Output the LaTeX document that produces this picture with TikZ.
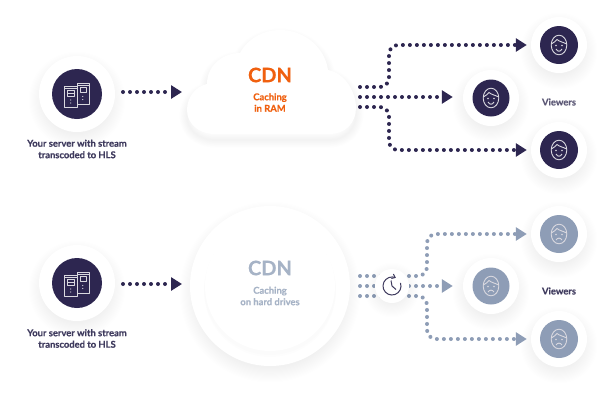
\documentclass[tikz,border=0pt]{standalone}
\usepackage{fontspec}
\setmainfont[BoldFeatures={FakeBold=0.35}]{Lato}
\usetikzlibrary{arrows.meta}

\definecolor{navy}{HTML}{2D2650}
\definecolor{labelink}{HTML}{3F3B5E}
\definecolor{steel}{HTML}{8E9DB6}
\definecolor{steeltext}{HTML}{A6B3C6}
\definecolor{flame}{HTML}{F0600F}

\tikzset{
  disc/.style = {circle, fill=white, inner sep=0, minimum size=56},
  hub/.style = {circle, fill=navy, inner sep=0, minimum size=#1},
  hub/.default = 38,
  greyhub/.style = {hub=#1, fill=steel},
  greyhub/.default = 38,
  dotline/.style = {draw=navy, line width=4, line cap=round, dash pattern=on 0pt off 7pt,
    rounded corners=9, -{Triangle[length=11pt,width=13pt,fill=navy]}},
  greydots/.style = {dotline, draw=steel, -{Triangle[length=11pt,width=13pt,fill=steel]}},
  plainlabel/.style = {font=\fontsize{9.4}{11.5}\selectfont\bfseries, text=labelink, align=center},
  bigtitle/.style = {font=\fontsize{20}{22}\selectfont\bfseries},
  smalltitle/.style = {font=\fontsize{9.4}{11.5}\selectfont\bfseries, align=center},
  glyph/.style = {draw=white!82!navy, line width=0.9, line join=round}
}

% soft shadow under a round shape
\newcommand{\softshadow}[3]{
  \foreach \i in {1,...,14} {
    \fill[black, opacity=0.0035] (#1, #2+6) circle ({#3+\i*1.1-5});
  }
}
% two server towers
\newcommand{\servericon}[2]{
  \begin{scope}[shift={(#1,#2)}, glyph]
    \draw (-12.5,-8) rectangle (0,13);
    \draw (-12.5,-5.5) -- (0,-5.5);
    \draw (-9.5,-3.5) rectangle (-3,2);
    \draw (-9.5,-1) -- (-3,-1);
    \draw (0,-11) rectangle (12,10);
    \draw (0,-8.5) -- (12,-8.5);
    \draw (3,-6.5) rectangle (9.5,-1.5);
    \fill[white!82!navy] (-6.3,6) circle (0.6) (-6.3,9) circle (0.6);
    \fill[white!82!navy] (5.7,2.5) circle (0.6) (5.7,5.5) circle (0.6);
  \end{scope}
}
% face, #3 and #4 set the mouth: ends and middle
\newcommand{\faceicon}[4]{
  \begin{scope}[shift={(#1,#2)}, glyph]
    \draw (0,0) ellipse (7.8 and 9.8);
    \draw (-7.6,-1) .. controls (-5,-2.5) and (-3,-4) .. (-2,-5.5) .. controls (0,-3.5) and (4,-3) .. (7.6,-1);
    \fill[white!82!navy] (-3,0.5) circle (0.8) (3,0.5) circle (0.8);
    \draw (-3,#3) .. controls (-1,#4) and (1,#4) .. (3,#3);
  \end{scope}
}
\newcommand{\cloudoutline}{
  (215,134) .. controls (198,134) and (187,123) .. (187,110)
  .. controls (187,96) and (197,86) .. (207,84)
  .. controls (207,66) and (222,53) .. (240,53)
  .. controls (248,38) and (264,30) .. (280,30)
  .. controls (305,30) and (325,48) .. (328,70)
  .. controls (345,73) and (356,92) .. (356,108)
  .. controls (356,123) and (345,134) .. (330,134) -- cycle
}

\begin{document}
\begin{tikzpicture}[x=1pt, y=-1pt]

  \useasboundingbox (0,0) rectangle (600,400);
  \fill[white] (0,0) rectangle (600,400);

  \begin{scope}

    % Stream through RAM
    \softshadow{77}{94}{38}
    \softshadow{559}{45}{28}
    \softshadow{491}{98}{28}
    \softshadow{559}{150}{28}
    \foreach \i in {1,...,12} {
      \draw[black, opacity=0.003, line width=\i*1.3, line join=round, yshift=-6pt] \cloudoutline;
    }
    \fill[white] \cloudoutline;

    \node[disc, minimum size=76] (srvA) at (77,94) {};
    \node[hub=50] (srvAcore) at (77,94) {};
    \servericon{77}{94}
    \node[plainlabel] (srvAtext) at (77,149) {Your server with stream\\transcoded to HLS};

    \node[bigtitle, text=flame] (cdnA) at (270,75) {CDN};
    \node[smalltitle, text=flame] (cacheA) at (270,102.5) {Caching\\in RAM};

    \node[disc] (viewA) at (559,45) {};
    \node[disc] (viewB) at (491,98) {};
    \node[disc] (viewC) at (559,150) {};
    \node[hub] (viewAcore) at (559,45) {};
    \node[hub=37] (viewBcore) at (491,98) {};
    \node[hub] (viewCcore) at (559,150) {};
    \faceicon{559}{45}{4}{7}
    \faceicon{491}{98}{4}{7}
    \faceicon{559}{150}{4}{7}
    \node[plainlabel, text=labelink!85!white] (viewText) at (559,102) {Viewers};

    \coordinate (srvAend) at (182,92);
    \coordinate (ramA) at (360,87);
    \coordinate (ramB) at (360,97);
    \coordinate (ramC) at (360,107);
    \coordinate (bendA) at (389,66);
    \coordinate (bendC) at (389,128);

    \draw[dotline] (123,92) coordinate (srvAout) -- (srvAend);
    \draw[dotline] (ramA) -| (bendA) |- ([xshift=-4pt]viewA.west);
    \draw[dotline] (ramB) -- ([xshift=-10pt]viewB.west |- ramB);
    \draw[dotline] (ramC) -| (bendC) |- ([xshift=-4pt]viewC.west);

  \end{scope}
  \begin{scope}

    % Stream through hard drives
    \softshadow{77}{283}{38}
    \softshadow{559}{234}{28}
    \softshadow{491}{286}{28}
    \softshadow{559}{339}{28}
    \softshadow{270}{286}{80}

    \node[disc, minimum size=160] (hddOuter) at (270,286) {};
    \fill[black, opacity=0.008] (270,291) circle (66);
    \fill[black, opacity=0.008] (270,289) circle (66);
    \node[disc, minimum size=130] (hddInner) at (270,286) {};

    \node[disc, minimum size=76] (srvB) at (77,283) {};
    \node[hub=50] (srvBcore) at (77,283) {};
    \servericon{77}{283}
    \node[plainlabel] (srvBtext) at (77,338.5) {Your server with stream\\transcoded to HLS};

    \node[bigtitle, text=steeltext] (cdnB) at (270,268) {CDN};
    \node[smalltitle, text=steeltext] (cacheB) at (270,296) {Caching\\on hard drives};

    \node[disc] (viewD) at (559,234) {};
    \node[disc] (viewE) at (491,286) {};
    \node[disc] (viewF) at (559,339) {};
    \node[greyhub] (viewDcore) at (559,234) {};
    \node[greyhub=37] (viewEcore) at (491,286) {};
    \node[greyhub] (viewFcore) at (559,339) {};
    \faceicon{559}{234}{6}{3.5}
    \faceicon{491}{286}{6}{3.5}
    \faceicon{559}{339}{6}{3.5}
    \node[plainlabel, text=labelink] (viewTextB) at (559,291) {Viewers};

    \coordinate (srvBend) at (182,284);
    \coordinate (hddA) at (360,276);
    \coordinate (hddB) at (360,286);
    \coordinate (hddC) at (360,296);
    \coordinate (bendD) at (427,255);
    \coordinate (bendF) at (427,317);

    \draw[dotline] (123,284) coordinate (srvBout) -- (srvBend);
    \draw[greydots] (hddA) -| (bendD) |- ([xshift=-4pt]viewD.west);
    \draw[greydots] (hddB) -- ([xshift=-10pt]viewE.west |- hddB);
    \draw[greydots] (hddC) -| (bendF) |- ([xshift=-4pt]viewF.west);

    % clock on top of the three lines
    \softshadow{392}{284}{17}
    \node[disc, minimum size=34] (clockDisc) at (392,286) {};
    \begin{scope}[shift={(392,286)}, draw=labelink, line width=1]
      \draw[-{Straight Barb[length=3pt,width=5pt]}] (-20:9) arc (-20:295:9);
      \draw (-1,-5.5) -- (0,0) -- (4,3.5);
    \end{scope}

  \end{scope}
\end{tikzpicture}
\end{document}
